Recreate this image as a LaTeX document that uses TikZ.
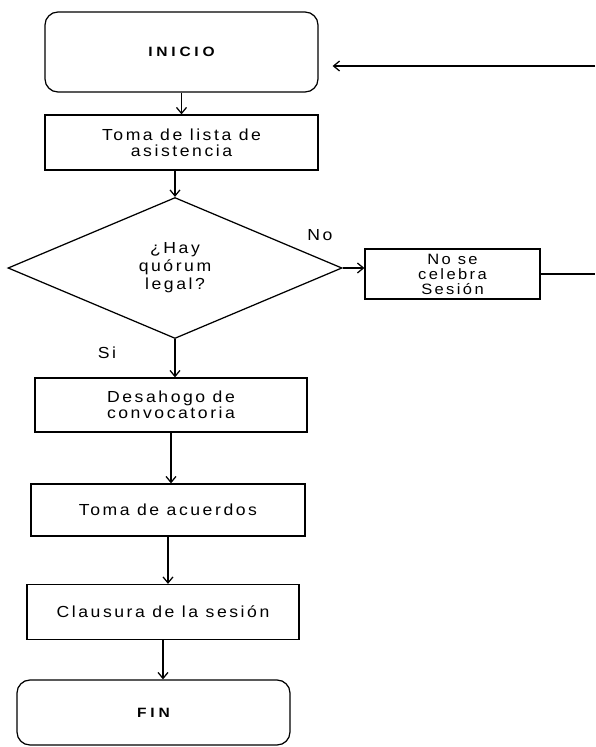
\documentclass[tikz,border=0pt]{standalone}
\usepackage{fontspec}
\setmainfont{Liberation Sans}[LetterSpace=16,FakeStretch=1.1]
\newfontfamily\boldsp{Liberation Sans}[LetterSpace=28,FakeStretch=1.15]
\usetikzlibrary{shapes.geometric,arrows.meta}
\begin{document}
\begin{tikzpicture}[x=1pt,y=-1pt,
  line width=1.25pt,
  every node/.style={font=\fontsize{16}{16}\selectfont},
  proc/.style={draw, rectangle, align=center, inner sep=0pt},
  term/.style={draw, rectangle, rounded corners=13pt, inner sep=0pt,
    font=\boldsp\bfseries\fontsize{13.5}{15}\selectfont},
  decis/.style={draw, diamond, inner sep=0pt, align=center,
    font=\fontsize{16}{18}\selectfont},
  arr/.style={-{Straight Barb[length=6pt,width=10pt]}},
  lbl/.style={inner sep=0pt}]
\useasboundingbox (0,0) rectangle (595,747);
\node[term, minimum width=273pt, minimum height=80pt] (inicio) at (181.5,52) {INICIO};
\node[proc, minimum width=273pt, minimum height=55pt] (lista) at (181.5,142.5) {Toma de lista de\\asistencia};
\node[decis, minimum width=334pt, minimum height=141pt] (dia) at (175,268) {¿Hay\\quórum\\legal?};
\node[proc, minimum width=175pt, minimum height=50pt, font=\fontsize{15}{15}\selectfont] (nose) at (452.5,274) {No se\\celebra\\Sesión};
\node[proc, minimum width=272pt, minimum height=54pt] (desa) at (171,405) {Desahogo de\\convocatoria};
\node[proc, minimum width=274pt, minimum height=52pt] (acu) at (168,510) {Toma de acuerdos};
\node[proc, minimum width=272pt, minimum height=55pt] (clau) at (163,612) {Clausura de la sesión};
\node[term, minimum width=273pt, minimum height=65pt] (fin) at (153.5,712.5) {FIN};
\node[lbl] (no) at (320,235) {No};
\node[lbl] (si) at (107,353) {Si};
\coordinate (r1) at (595,277);
\coordinate (r2) at (595,66);
\draw[arr] (inicio.south) -- (inicio.south |- lista.north);
\draw[arr] (lista.south -| dia.north) -- (dia.north);
\draw[arr] (dia.south) -- (dia.south |- desa.north);
\draw[arr] (desa.south) -- (desa.south |- acu.north);
\draw[arr] (acu.south) -- (acu.south |- clau.north);
\draw[arr] (clau.south) -- (clau.south |- fin.north);
\draw[arr] (dia.east) -- (dia.east -| nose.west);
\draw (nose.east) -- (nose.east -| r1);
\draw[arr, shorten >=14pt] (r2) -- (inicio.east |- r2);
\end{tikzpicture}
\end{document}
